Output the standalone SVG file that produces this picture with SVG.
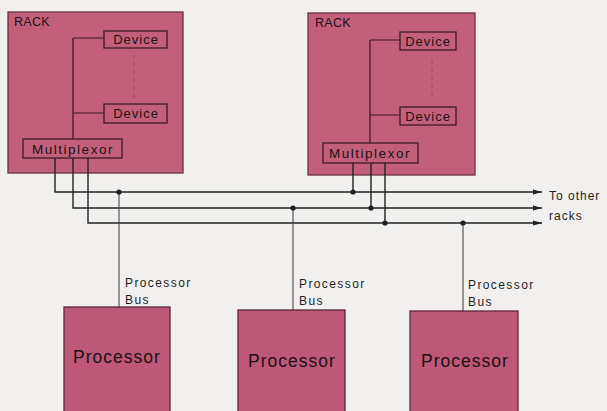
<svg xmlns="http://www.w3.org/2000/svg" width="607" height="411" viewBox="0 0 607 411">
  <style>
    .bg { fill: #f1f0ee; }
    .rack { fill: #c2607c; stroke: #6a2e40; stroke-width: 1.3; }
    .box { fill: #c2607c; stroke: #3e1a26; stroke-width: 1.3; }
    .proc { fill: #bd5878; stroke: #5a2636; stroke-width: 1.3; }
    .t { font-family: "Liberation Sans", Arial, sans-serif; fill: #1c1014; }
    .rk { font-size: 12.5px; letter-spacing: 0.3px; }
    .dev { font-size: 13px; letter-spacing: 1px; text-anchor: middle; }
    .mux { font-size: 13.5px; letter-spacing: 1.5px; text-anchor: middle; }
    .pt { font-size: 17.5px; letter-spacing: 1px; text-anchor: middle; }
    .lbl { font-size: 12px; letter-spacing: 1.4px; fill: #1e1e1e; }
    .wire { fill: none; stroke: #222; stroke-width: 1.4; }
    .inner { fill: none; stroke: #35141e; stroke-width: 1.2; }
    .dash { fill: none; stroke: #7a3b4c; stroke-width: 1; stroke-dasharray: 3 5; opacity: 0.7; }
    .pbus { fill: none; stroke: #3a3a3a; stroke-width: 1; }
    .dot { fill: #1e1e1e; }
  </style>
  <defs>
    <marker id="arr" markerWidth="9" markerHeight="6" refX="9" refY="3" orient="auto" markerUnits="userSpaceOnUse">
      <path d="M0,0.6 L9,3 L0,5.4 Z" fill="#222"/>
    </marker>
  </defs>
  <rect class="bg" x="0" y="0" width="607" height="411"/>

  <g id="rack1">
    <rect class="rack" x="8" y="12" width="175" height="161"/>
    <text class="t rk" x="14" y="26">RACK</text>
    <path class="inner" d="M73,38 H104 M73,113 H104 M73,38 V139"/>
    <path class="dash" d="M134,55 V100"/>
    <g id="rack1-device1">
      <rect class="box" x="104" y="31" width="63" height="17"/>
      <text class="t dev" x="136" y="44">Device</text>
    </g>
    <g id="rack1-device2">
      <rect class="box" x="104" y="104" width="63" height="19"/>
      <text class="t dev" x="136" y="118">Device</text>
    </g>
    <g id="rack1-mux">
      <rect class="box" x="23" y="139" width="99" height="19"/>
      <text class="t mux" x="73" y="154">Multiplexor</text>
    </g>
  </g>

  <g id="rack2">
    <rect class="rack" x="308" y="13" width="167" height="162"/>
    <text class="t rk" x="315" y="27">RACK</text>
    <path class="inner" d="M370,40 H400 M370,115 H400 M370,40 V143"/>
    <path class="dash" d="M432,60 V96"/>
    <g id="rack2-device1">
      <rect class="box" x="400" y="32" width="56" height="18"/>
      <text class="t dev" x="428" y="46">Device</text>
    </g>
    <g id="rack2-device2">
      <rect class="box" x="400" y="107" width="56" height="18"/>
      <text class="t dev" x="428" y="121">Device</text>
    </g>
    <g id="rack2-mux">
      <rect class="box" x="323" y="143" width="95" height="20"/>
      <text class="t mux" x="370" y="158">Multiplexor</text>
    </g>
  </g>

  <g id="connectors">
    <path class="wire" d="M55,158 V192 H542" marker-end="url(#arr)"/>
    <path class="wire" d="M73,158 V208 H542" marker-end="url(#arr)"/>
    <path class="wire" d="M88,158 V223 H542" marker-end="url(#arr)"/>
    <path class="wire" d="M353,163 V192 M371,163 V208 M385,163 V223"/>
    <path class="pbus" d="M119,192 V307 M293,208 V310 M463,223 V311"/>
    <circle class="dot" cx="119" cy="192" r="2.6"/>
    <circle class="dot" cx="293" cy="208" r="2.6"/>
    <circle class="dot" cx="463" cy="223" r="2.6"/>
    <circle class="dot" cx="353" cy="192" r="2.6"/>
    <circle class="dot" cx="371" cy="208" r="2.6"/>
    <circle class="dot" cx="385" cy="223" r="2.6"/>
    <text class="t lbl" x="549" y="200" style="letter-spacing:1px">To other</text>
    <text class="t lbl" x="549" y="220" style="letter-spacing:1px">racks</text>
    <text class="t lbl" x="125" y="287">Processor</text>
    <text class="t lbl" x="125" y="304">Bus</text>
    <text class="t lbl" x="299" y="288">Processor</text>
    <text class="t lbl" x="299" y="305">Bus</text>
    <text class="t lbl" x="468" y="289">Processor</text>
    <text class="t lbl" x="468" y="306">Bus</text>
  </g>

  <g id="processor1">
    <rect class="proc" x="64" y="307" width="106" height="110"/>
    <text class="t pt" x="117" y="363">Processor</text>
  </g>
  <g id="processor2">
    <rect class="proc" x="238" y="310" width="107" height="110"/>
    <text class="t pt" x="292" y="367">Processor</text>
  </g>
  <g id="processor3">
    <rect class="proc" x="410" y="311" width="108" height="110"/>
    <text class="t pt" x="465" y="367">Processor</text>
  </g>
</svg>
